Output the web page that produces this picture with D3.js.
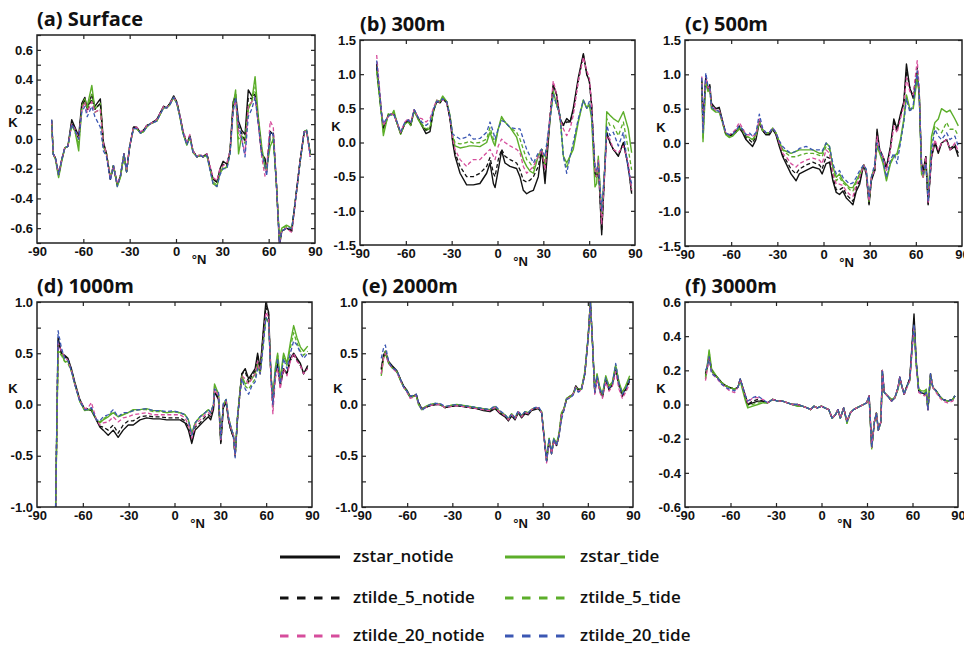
<!DOCTYPE html>
<html><head><meta charset="utf-8">
<script src="https://cdn.jsdelivr.net/npm/d3@7"></script>
<style>
html,body{margin:0;padding:0;background:#fff;}
svg{display:block;}
</style></head>
<body>
<svg id="chart" width="964" height="646"></svg>
<script>
// ---------------- DATA ----------------
const seriesNames = ["zstar_notide","zstar_tide","ztilde_5_notide","ztilde_5_tide","ztilde_20_notide","ztilde_20_tide"];
const panelTitles = ["(a) Surface","(b) 300m","(c) 500m","(d) 1000m","(e) 2000m","(f) 3000m"];
const xTickLabels = [-90,-60,-30,0,30,60,90];
const xInnerTicks = [-60,-30,0,30,60];
const yTicksA = [-0.6,-0.4,-0.2,0.0,0.2,0.4,0.6];
const yMinorA = [-0.7,-0.6,-0.5,-0.4,-0.3,-0.2,-0.1,0.0,0.1,0.2,0.3,0.4,0.5,0.6,0.7];
const yTicksBC = [-1.5,-1.0,-0.5,0.0,0.5,1.0,1.5];
const yTicksDE = [-1.0,-0.5,0.0,0.5,1.0];
const yMinorDE = [-1.0,-0.75,-0.5,-0.25,0.0,0.25,0.5,0.75,1.0];
const yTicksF = [-0.6,-0.4,-0.2,0.0,0.2,0.4,0.6];

// (a) Surface
const latA = [-80.5,-79.5,-78,-76,-74,-72,-70,-67.5,-65.5,-63,-61,-59,-57.5,-54.5,-52.5,-49,-47,-45,-42.5,-40.5,-38,-36,-33.7,-32,-30,-27.5,-25.5,-23,-21,-19,-17,-12.5,-8,-6,-4,-1.5,0.5,2.5,4.5,7,9,11,13.5,15.5,17.5,20,22,24,26.5,28.5,30.5,33,35,37,38.6,40.5,42.5,44.7,46.8,49,51.2,53.3,55.5,57.6,58.7,61,63,65,67,68.5,71.5,75,78,80.3,83,84.6,87];
const surf_zstar_notide = [0.13,-0.1,-0.13,-0.24,-0.14,-0.06,-0.05,0.13,0.08,0.02,0.24,0.28,0.2,0.3,0.22,0.27,-0.02,-0.1,-0.27,-0.18,-0.31,-0.25,-0.1,-0.22,-0.05,0.08,0.08,0.04,0.06,0.09,0.1,0.13,0.22,0.21,0.24,0.29,0.25,0.16,0.05,-0.03,0.02,-0.08,-0.12,-0.11,-0.12,-0.1,-0.19,-0.27,-0.29,-0.2,-0.15,-0.17,-0.08,0.25,0.3,0.12,0.06,0.03,0.33,0.29,0.3,0.12,-0.1,-0.13,-0.22,0.05,0.03,-0.3,-0.72,-0.62,-0.6,-0.62,-0.35,-0.15,0.05,0.05,-0.1];
const surf_zstar_tide = [0.12,-0.1,-0.14,-0.26,-0.15,-0.06,-0.05,0.1,0.06,-0.08,0.22,0.27,0.22,0.36,0.2,0.24,-0.05,-0.1,-0.26,-0.18,-0.32,-0.26,-0.11,-0.22,-0.05,0.07,0.07,0.04,0.05,0.08,0.1,0.12,0.21,0.21,0.23,0.28,0.24,0.15,0.04,-0.04,0.01,-0.09,-0.12,-0.11,-0.12,-0.11,-0.2,-0.3,-0.32,-0.23,-0.2,-0.19,-0.09,0.22,0.33,-0.1,0.02,0.0,0.2,0.25,0.42,0.15,-0.05,-0.2,-0.2,-0.05,0.0,-0.3,-0.68,-0.6,-0.58,-0.6,-0.36,-0.16,0.05,0.06,-0.11];
const surf_ztilde5_notide = [0.12,-0.1,-0.13,-0.24,-0.14,-0.06,-0.05,0.11,0.07,0.0,0.22,0.26,0.2,0.27,0.2,0.24,-0.03,-0.1,-0.27,-0.18,-0.31,-0.25,-0.1,-0.22,-0.05,0.08,0.08,0.04,0.06,0.09,0.1,0.13,0.22,0.21,0.24,0.28,0.25,0.16,0.05,-0.03,0.02,-0.08,-0.12,-0.11,-0.12,-0.1,-0.19,-0.27,-0.29,-0.21,-0.17,-0.18,-0.08,0.22,0.28,0.08,0.04,-0.02,0.28,0.27,0.3,0.12,-0.1,-0.14,-0.2,0.05,0.04,-0.3,-0.7,-0.62,-0.6,-0.61,-0.35,-0.15,0.05,0.05,-0.1];
const surf_ztilde5_tide = [0.12,-0.1,-0.14,-0.25,-0.15,-0.06,-0.05,0.09,0.05,-0.04,0.2,0.25,0.2,0.3,0.18,0.2,-0.05,-0.1,-0.26,-0.18,-0.31,-0.26,-0.11,-0.22,-0.05,0.07,0.07,0.04,0.05,0.08,0.1,0.12,0.21,0.21,0.23,0.28,0.24,0.15,0.04,-0.04,0.01,-0.09,-0.12,-0.11,-0.12,-0.11,-0.2,-0.29,-0.31,-0.22,-0.19,-0.19,-0.09,0.2,0.3,0.0,0.02,-0.03,0.22,0.25,0.35,0.12,-0.07,-0.17,-0.2,0.0,0.01,-0.3,-0.68,-0.6,-0.59,-0.6,-0.36,-0.16,0.05,0.06,-0.11];
const surf_ztilde20_notide = [0.12,-0.1,-0.13,-0.24,-0.14,-0.06,-0.05,0.1,0.07,0.0,0.2,0.25,0.18,0.25,0.18,0.2,-0.03,-0.1,-0.27,-0.18,-0.3,-0.25,-0.1,-0.21,-0.05,0.08,0.08,0.05,0.06,0.09,0.1,0.13,0.22,0.21,0.24,0.28,0.25,0.16,0.06,-0.02,0.03,-0.08,-0.12,-0.1,-0.12,-0.1,-0.18,-0.26,-0.28,-0.2,-0.18,-0.16,-0.08,0.2,0.26,0.05,0.0,-0.1,0.22,0.25,0.28,0.1,-0.12,-0.25,-0.2,0.12,0.08,-0.3,-0.7,-0.62,-0.6,-0.63,-0.36,-0.15,0.05,0.05,-0.14];
const surf_ztilde20_tide = [0.13,-0.1,-0.13,-0.24,-0.14,-0.06,-0.05,0.1,0.06,0.0,0.18,0.22,0.15,0.22,0.15,0.08,-0.08,-0.12,-0.28,-0.18,-0.32,-0.25,-0.1,-0.22,-0.05,0.07,0.07,0.04,0.05,0.08,0.1,0.12,0.21,0.21,0.23,0.28,0.24,0.15,0.04,-0.04,0.01,-0.09,-0.12,-0.11,-0.12,-0.11,-0.21,-0.3,-0.32,-0.24,-0.2,-0.2,-0.1,0.18,0.28,0.1,0.0,-0.12,0.15,0.2,0.28,0.1,-0.1,-0.18,-0.25,0.05,0.03,-0.3,-0.7,-0.62,-0.6,-0.6,-0.36,-0.16,0.05,0.06,-0.12];

// (b) 300m
const latB = [-79.1,-75.8,-74.7,-71.5,-69.3,-67.8,-66.0,-63.4,-60.6,-58.4,-56.8,-54.5,-51.8,-49.6,-46.8,-44.2,-42.0,-39.8,-37.6,-35.9,-33.3,-31.1,-29.3,-27.8,-24.5,-20.2,-18.4,-15.8,-11.5,-7.1,-4.9,-2.7,-1.6,0.5,2.7,4.9,8.2,12.5,14.7,16.9,19.1,21.3,23.5,26.7,28.9,31.1,34.4,36.5,38.7,40.9,43.1,45.3,47.5,49.6,52.9,56.2,58.4,60.1,61.6,63.8,64.9,66.0,68.2,70.4,71.5,73.6,75.8,79.1,82.4,85.6,87.8];
const m300_zstar_notide = [1.15,0.4,0.2,0.4,0.42,0.42,0.3,0.13,0.28,0.33,0.25,0.48,0.35,0.25,0.13,0.16,0.45,0.6,0.58,0.65,0.6,0.35,0.0,-0.2,-0.45,-0.62,-0.62,-0.62,-0.6,-0.45,-0.3,-0.6,-0.66,-0.4,-0.12,-0.3,-0.35,-0.38,-0.5,-0.7,-0.75,-0.72,-0.7,-0.5,-0.1,-0.6,0.35,0.85,0.7,0.35,0.25,0.35,0.3,0.5,0.95,1.3,1.0,0.9,0.55,-0.45,-0.5,-0.3,-1.35,-0.3,0.15,0.0,-0.1,-0.2,0.0,-0.35,-0.75];
const m300_zstar_tide = [1.05,0.38,0.1,0.42,0.4,0.47,0.3,0.12,0.28,0.3,0.25,0.46,0.33,0.25,0.18,0.2,0.45,0.62,0.6,0.68,0.6,0.4,0.08,-0.05,-0.08,-0.06,-0.05,-0.05,-0.06,0.0,0.15,0.0,-0.05,0.2,0.38,0.3,0.22,0.08,-0.1,-0.25,-0.35,-0.42,-0.45,-0.2,-0.1,-0.35,0.35,0.75,0.55,0.4,-0.2,-0.3,-0.2,-0.1,0.3,0.62,0.5,0.55,0.35,-0.65,-0.6,-0.2,-1.1,-0.3,0.45,0.4,0.35,0.3,0.45,0.2,-0.15];
const m300_ztilde5_notide = [1.1,0.4,0.22,0.4,0.4,0.42,0.3,0.14,0.28,0.33,0.26,0.47,0.35,0.27,0.18,0.2,0.47,0.6,0.58,0.64,0.58,0.35,0.02,-0.15,-0.35,-0.5,-0.5,-0.5,-0.45,-0.35,-0.22,-0.45,-0.5,-0.25,-0.1,-0.2,-0.25,-0.3,-0.4,-0.55,-0.58,-0.55,-0.5,-0.35,-0.1,-0.5,0.4,0.85,0.7,0.35,0.25,0.3,0.3,0.45,0.9,1.28,1.0,0.9,0.55,-0.45,-0.5,-0.3,-1.3,-0.3,0.12,0.0,-0.1,-0.2,0.0,-0.35,-0.72];
const m300_ztilde5_tide = [1.05,0.36,0.15,0.4,0.4,0.44,0.3,0.13,0.27,0.3,0.25,0.46,0.34,0.27,0.2,0.22,0.46,0.6,0.6,0.66,0.6,0.38,0.1,0.0,-0.02,0.0,0.02,-0.01,0.0,0.05,0.22,0.05,0.0,0.2,0.35,0.3,0.22,0.15,0.05,-0.1,-0.25,-0.3,-0.38,-0.18,-0.1,-0.28,0.35,0.72,0.55,0.4,-0.2,-0.38,-0.2,-0.05,0.32,0.62,0.5,0.58,0.38,-0.5,-0.5,-0.25,-1.05,-0.3,0.35,0.25,0.25,0.1,0.3,-0.1,-0.4];
const m300_ztilde20_notide = [1.28,0.42,0.25,0.38,0.42,0.4,0.3,0.15,0.3,0.35,0.3,0.48,0.36,0.35,0.3,0.35,0.5,0.62,0.58,0.63,0.58,0.35,0.05,-0.1,-0.25,-0.35,-0.3,-0.25,-0.25,-0.15,-0.1,-0.2,-0.25,-0.05,0.05,0.0,-0.05,-0.1,-0.15,-0.35,-0.45,-0.4,-0.35,-0.2,-0.1,-0.4,0.4,0.9,0.7,0.35,0.2,0.1,0.2,0.4,0.9,1.25,1.05,0.95,0.55,-0.4,-0.5,-0.25,-1.2,-0.35,0.1,0.05,-0.1,-0.15,-0.05,-0.3,-0.7];
const m300_ztilde20_tide = [1.2,0.4,0.28,0.38,0.42,0.4,0.32,0.15,0.3,0.33,0.28,0.48,0.36,0.3,0.25,0.3,0.48,0.6,0.6,0.64,0.6,0.38,0.12,0.1,0.05,0.08,0.12,0.05,0.06,0.15,0.3,0.15,0.05,0.2,0.32,0.3,0.22,0.2,0.2,0.05,-0.1,-0.2,-0.3,-0.15,-0.1,-0.2,0.35,0.7,0.55,0.4,-0.2,-0.45,-0.2,0.0,0.35,0.62,0.5,0.6,0.4,-0.35,-0.4,-0.3,-1.0,-0.3,0.25,0.1,0.15,-0.05,0.15,-0.4,-0.6];

// (c) 500m
const latC = [-79.1,-78.3,-76.5,-75.0,-73.9,-72.8,-70.0,-67.8,-65.7,-63.5,-61.3,-59.1,-57.0,-54.8,-52.6,-50.4,-48.3,-46.1,-43.9,-41.7,-39.6,-37.4,-35.2,-33.0,-30.9,-28.7,-26.5,-24.3,-21.1,-17.8,-15.7,-11.3,-7.0,-2.6,-0.9,1.7,3.9,6.1,8.3,10.4,12.6,14.8,17.0,19.1,21.3,23.5,26.1,27.8,29.6,31.1,33.3,34.8,36.5,38.7,40.9,43.5,45.7,47.8,50.0,52.2,53.9,56.1,58.3,60.9,62.2,63.7,64.8,66.5,68.0,70.2,72.4,74.6,76.7,80.0,82.2,85.4,87.6];
const m500_zstar_notide = [0.9,0.3,0.95,0.78,0.85,0.58,0.5,0.52,0.33,0.13,0.1,0.12,0.15,0.22,0.15,0.05,0.0,-0.05,0.05,0.3,0.18,0.12,0.12,0.2,0.12,-0.05,-0.2,-0.3,-0.45,-0.55,-0.45,-0.4,-0.35,-0.38,-0.45,-0.3,-0.28,-0.55,-0.72,-0.75,-0.7,-0.8,-0.85,-0.9,-0.7,-0.6,-0.32,-0.45,-0.9,-0.55,-0.4,0.2,-0.1,-0.2,-0.35,-0.05,0.35,0.2,0.42,0.6,1.15,0.8,0.65,1.0,0.7,-0.3,-0.4,-0.2,-0.9,-0.2,0.0,-0.15,0.0,0.05,-0.1,-0.05,-0.2];
const m500_zstar_tide = [0.85,0.02,0.88,0.75,0.8,0.5,0.45,0.45,0.3,0.12,0.08,0.1,0.16,0.22,0.2,0.1,0.08,0.05,0.12,0.32,0.2,0.15,0.15,0.2,0.15,0.02,-0.1,-0.12,-0.15,-0.12,-0.1,-0.1,-0.1,-0.15,-0.15,0.0,-0.05,-0.35,-0.5,-0.45,-0.55,-0.6,-0.65,-0.65,-0.55,-0.45,-0.32,-0.4,-0.85,-0.5,-0.35,-0.05,-0.15,-0.3,-0.55,-0.3,-0.2,-0.15,0.05,0.35,0.7,0.5,0.5,0.95,0.75,-0.45,-0.5,-0.3,-0.8,0.1,0.3,0.35,0.5,0.45,0.48,0.35,0.25];
const m500_ztilde5_notide = [0.92,0.25,0.95,0.8,0.82,0.55,0.5,0.5,0.32,0.14,0.12,0.13,0.18,0.25,0.18,0.08,0.05,0.0,0.1,0.32,0.18,0.13,0.14,0.2,0.13,-0.02,-0.18,-0.25,-0.38,-0.45,-0.38,-0.32,-0.28,-0.32,-0.38,-0.2,-0.22,-0.5,-0.68,-0.68,-0.65,-0.75,-0.8,-0.85,-0.65,-0.55,-0.32,-0.45,-0.88,-0.52,-0.4,0.15,-0.1,-0.2,-0.38,-0.08,0.3,0.18,0.4,0.58,1.05,0.8,0.68,1.1,0.72,-0.32,-0.45,-0.2,-0.9,-0.2,0.02,-0.12,0.0,0.05,-0.08,-0.02,-0.15];
const m500_ztilde5_tide = [0.88,0.05,0.9,0.76,0.8,0.52,0.46,0.46,0.3,0.12,0.1,0.1,0.15,0.2,0.18,0.1,0.08,0.05,0.1,0.3,0.18,0.14,0.15,0.22,0.15,0.0,-0.1,-0.15,-0.2,-0.2,-0.18,-0.15,-0.15,-0.18,-0.2,-0.05,-0.1,-0.4,-0.55,-0.5,-0.58,-0.62,-0.68,-0.7,-0.58,-0.48,-0.32,-0.4,-0.85,-0.5,-0.35,-0.02,-0.12,-0.28,-0.52,-0.28,-0.18,-0.2,0.02,0.32,0.68,0.48,0.52,1.0,0.75,-0.42,-0.48,-0.3,-0.82,0.0,0.25,0.2,0.15,0.3,0.2,0.2,0.1];
const m500_ztilde20_notide = [0.97,0.2,0.98,0.8,0.82,0.55,0.48,0.48,0.32,0.15,0.12,0.15,0.2,0.3,0.22,0.12,0.12,0.1,0.12,0.35,0.2,0.15,0.15,0.22,0.15,0.0,-0.15,-0.2,-0.3,-0.35,-0.3,-0.25,-0.22,-0.25,-0.3,-0.1,-0.15,-0.45,-0.6,-0.6,-0.62,-0.7,-0.75,-0.78,-0.62,-0.5,-0.32,-0.42,-0.85,-0.5,-0.4,0.1,-0.1,-0.2,-0.4,-0.1,0.25,0.15,0.35,0.55,0.95,0.75,0.7,1.2,0.8,-0.35,-0.5,-0.2,-0.88,-0.2,0.05,-0.1,0.0,0.05,-0.1,0.0,-0.12];
const m500_ztilde20_tide = [0.95,0.15,1.02,0.82,0.8,0.52,0.48,0.46,0.33,0.15,0.12,0.13,0.18,0.25,0.2,0.12,0.15,0.1,0.15,0.42,0.22,0.15,0.15,0.22,0.15,0.03,-0.05,-0.1,-0.15,-0.12,-0.08,-0.05,-0.1,-0.1,-0.12,0.0,-0.05,-0.3,-0.45,-0.4,-0.5,-0.55,-0.6,-0.58,-0.5,-0.4,-0.32,-0.38,-0.8,-0.5,-0.3,0.0,-0.1,-0.25,-0.5,-0.25,-0.15,-0.3,0.0,0.3,0.65,0.45,0.55,1.05,0.75,-0.4,-0.45,-0.3,-0.85,-0.1,0.2,0.1,0.05,0.15,0.05,0.1,-0.05];

// (d) 1000m
const latD = [-77.8,-76.2,-74.0,-71.9,-69.7,-67.5,-65.3,-62.0,-58.7,-56.5,-54.4,-51.1,-48.9,-46.7,-43.4,-40.1,-36.9,-33.6,-30.3,-27.0,-22.6,-18.3,-13.9,-9.5,-5.1,-0.8,3.6,6.9,9.1,11.3,13.5,16.7,20.0,22.2,23.7,25.5,26.2,28.8,30.3,32.0,33.8,35.3,36.9,38.6,39.7,41.2,43.0,44.1,46.3,48.5,50.6,52.8,54.4,56.1,58.3,59.8,61.6,63.1,64.4,65.9,67.5,69.2,71.4,73.6,75.8,78.0,80.2,82.4,84.5,87.2];
const m1000_zstar_notide = [-1.0,0.65,0.5,0.48,0.45,0.35,0.22,0.05,-0.05,-0.05,-0.06,-0.15,-0.22,-0.25,-0.3,-0.25,-0.32,-0.25,-0.2,-0.2,-0.15,-0.13,-0.14,-0.14,-0.15,-0.15,-0.15,-0.18,-0.25,-0.38,-0.25,-0.2,-0.15,-0.12,-0.15,-0.05,0.12,0.05,-0.38,-0.03,0.02,-0.15,-0.25,-0.32,-0.5,-0.15,0.15,0.3,0.35,0.25,0.3,0.35,0.5,0.35,0.75,1.0,0.9,0.3,0.0,0.3,0.4,0.2,0.35,0.3,0.45,0.5,0.45,0.4,0.3,0.38];
const m1000_zstar_tide = [-1.0,0.52,0.5,0.42,0.42,0.33,0.2,0.03,-0.06,-0.05,-0.05,-0.15,-0.18,-0.15,-0.12,-0.08,-0.12,-0.1,-0.08,-0.05,-0.05,-0.04,-0.06,-0.06,-0.08,-0.07,-0.08,-0.1,-0.15,-0.28,-0.18,-0.12,-0.08,-0.05,-0.08,0.0,0.2,0.1,-0.35,0.0,0.05,-0.12,-0.22,-0.3,-0.5,-0.12,0.15,0.28,0.2,0.22,0.25,0.3,0.4,0.3,0.65,0.85,0.8,0.3,0.05,0.35,0.5,0.25,0.5,0.4,0.6,0.77,0.65,0.56,0.52,0.57];
const m1000_ztilde5_notide = [-1.0,0.62,0.5,0.47,0.44,0.34,0.21,0.04,-0.05,-0.04,-0.04,-0.15,-0.21,-0.22,-0.25,-0.2,-0.28,-0.2,-0.16,-0.16,-0.12,-0.11,-0.12,-0.12,-0.13,-0.13,-0.13,-0.16,-0.22,-0.36,-0.22,-0.18,-0.12,-0.1,-0.12,-0.03,0.13,0.06,-0.38,-0.02,0.02,-0.15,-0.25,-0.32,-0.5,-0.15,0.14,0.3,0.32,0.22,0.28,0.33,0.48,0.33,0.72,0.95,0.88,0.28,-0.02,0.28,0.38,0.18,0.33,0.3,0.43,0.48,0.43,0.38,0.3,0.36];
const m1000_ztilde5_tide = [-1.0,0.5,0.48,0.42,0.4,0.32,0.2,0.03,-0.06,-0.05,-0.04,-0.15,-0.17,-0.14,-0.11,-0.07,-0.12,-0.09,-0.08,-0.06,-0.05,-0.05,-0.07,-0.07,-0.08,-0.07,-0.08,-0.1,-0.15,-0.3,-0.18,-0.12,-0.08,-0.05,-0.08,0.0,0.18,0.1,-0.34,0.0,0.04,-0.12,-0.22,-0.3,-0.5,-0.12,0.13,0.26,0.18,0.15,0.2,0.25,0.38,0.3,0.62,0.85,0.8,0.3,0.02,0.32,0.48,0.22,0.48,0.38,0.55,0.7,0.6,0.52,0.48,0.52];
const m1000_ztilde20_notide = [-1.0,0.6,0.52,0.46,0.43,0.33,0.2,0.04,-0.04,-0.03,0.02,-0.15,-0.2,-0.18,-0.17,-0.12,-0.17,-0.13,-0.12,-0.1,-0.09,-0.08,-0.1,-0.1,-0.1,-0.1,-0.1,-0.13,-0.2,-0.33,-0.2,-0.15,-0.1,-0.08,-0.1,-0.02,0.15,0.08,-0.36,0.0,0.03,-0.13,-0.23,-0.3,-0.5,-0.13,0.12,0.28,0.25,0.2,0.25,0.3,0.42,0.3,0.65,0.9,0.85,0.25,-0.09,0.25,0.35,0.15,0.35,0.28,0.42,0.5,0.42,0.38,0.3,0.35];
const m1000_ztilde20_tide = [-1.0,0.72,0.55,0.45,0.43,0.33,0.2,0.03,-0.05,-0.05,-0.03,-0.15,-0.16,-0.12,-0.1,-0.05,-0.12,-0.08,-0.08,-0.06,-0.05,-0.04,-0.06,-0.06,-0.07,-0.06,-0.08,-0.1,-0.15,-0.3,-0.18,-0.12,-0.08,-0.05,-0.08,0.0,0.15,0.12,-0.33,0.02,0.05,-0.12,-0.22,-0.3,-0.52,-0.12,0.12,0.25,0.15,0.1,0.18,0.22,0.35,0.3,0.6,0.85,0.8,0.3,0.0,0.3,0.45,0.2,0.45,0.35,0.5,0.62,0.58,0.5,0.45,0.5];

// (e) 2000m
const latE = [-77.2,-75.7,-74.5,-72.3,-70.1,-66.8,-64.6,-62.4,-60.2,-58.0,-55.8,-54.0,-52.5,-50.3,-48.0,-44.7,-41.4,-38.1,-34.8,-31.5,-27.1,-22.6,-18.2,-13.8,-9.4,-5.0,-1.7,1.7,5.0,7.2,9.4,11.6,13.8,16.0,18.2,20.4,22.6,24.8,27.1,29.3,30.8,32.6,34.3,35.9,37.4,39.2,40.9,42.5,44.1,45.8,48.0,50.2,52.0,53.6,55.8,58.0,60.2,61.7,63.1,64.6,66.1,67.9,69.7,71.9,74.1,76.3,78.5,80.7,82.9,85.1,87.8];
const m2000_zstar_notide = [0.35,0.48,0.52,0.42,0.38,0.33,0.25,0.18,0.14,0.08,0.08,0.1,0.02,-0.04,-0.03,-0.01,0.0,0.0,-0.03,-0.02,-0.01,-0.02,-0.03,-0.04,-0.06,-0.07,-0.04,-0.09,-0.12,-0.16,-0.11,-0.15,-0.08,-0.13,-0.09,-0.1,-0.06,-0.05,-0.04,-0.08,-0.3,-0.55,-0.35,-0.48,-0.35,-0.4,-0.3,-0.1,-0.05,0.05,0.08,0.1,0.18,0.15,0.15,0.3,0.65,1.0,0.6,0.12,0.28,0.15,0.08,0.25,0.15,0.2,0.35,0.2,0.1,0.15,0.25];
const m2000_zstar_tide = [0.28,0.45,0.5,0.4,0.36,0.32,0.24,0.17,0.13,0.07,0.08,0.09,0.0,-0.05,-0.02,0.0,0.01,0.0,-0.03,-0.01,0.0,-0.01,-0.02,-0.03,-0.04,-0.05,-0.02,-0.07,-0.1,-0.14,-0.09,-0.13,-0.07,-0.11,-0.07,-0.08,-0.05,-0.03,-0.03,-0.07,-0.28,-0.53,-0.33,-0.46,-0.33,-0.38,-0.28,-0.08,-0.04,0.06,0.08,0.1,0.17,0.14,0.16,0.32,0.66,1.0,0.6,0.14,0.3,0.17,0.1,0.28,0.18,0.22,0.38,0.22,0.12,0.18,0.28];
const m2000_ztilde5_notide = [0.34,0.47,0.51,0.41,0.37,0.32,0.25,0.18,0.13,0.07,0.08,0.1,0.02,-0.04,-0.03,-0.01,0.0,0.0,-0.03,-0.02,-0.01,-0.02,-0.03,-0.04,-0.05,-0.06,-0.03,-0.08,-0.11,-0.15,-0.1,-0.14,-0.07,-0.12,-0.08,-0.09,-0.05,-0.04,-0.03,-0.08,-0.3,-0.55,-0.35,-0.48,-0.35,-0.4,-0.3,-0.1,-0.05,0.05,0.07,0.1,0.18,0.14,0.15,0.3,0.65,1.0,0.6,0.11,0.27,0.14,0.07,0.24,0.14,0.19,0.34,0.18,0.08,0.13,0.23];
const m2000_ztilde5_tide = [0.3,0.46,0.52,0.41,0.36,0.32,0.24,0.17,0.13,0.07,0.08,0.09,0.01,-0.05,-0.02,0.0,0.01,0.0,-0.02,-0.01,0.0,-0.01,-0.02,-0.03,-0.04,-0.05,-0.02,-0.07,-0.1,-0.14,-0.09,-0.13,-0.07,-0.11,-0.07,-0.08,-0.05,-0.03,-0.03,-0.07,-0.29,-0.54,-0.33,-0.47,-0.33,-0.39,-0.29,-0.1,-0.05,0.05,0.07,0.1,0.17,0.13,0.15,0.31,0.65,1.0,0.6,0.13,0.29,0.16,0.1,0.27,0.17,0.21,0.39,0.21,0.11,0.17,0.27];
const m2000_ztilde20_notide = [0.3,0.45,0.5,0.4,0.36,0.31,0.24,0.17,0.12,0.06,0.07,0.09,0.01,-0.05,-0.03,-0.01,0.0,0.0,-0.03,-0.02,-0.01,-0.02,-0.03,-0.04,-0.05,-0.06,-0.03,-0.08,-0.11,-0.15,-0.1,-0.14,-0.07,-0.12,-0.08,-0.09,-0.05,-0.04,-0.03,-0.08,-0.3,-0.57,-0.35,-0.48,-0.35,-0.4,-0.3,-0.1,-0.05,0.05,0.07,0.1,0.17,0.13,0.14,0.3,0.65,1.0,0.6,0.1,0.25,0.12,0.06,0.22,0.13,0.18,0.32,0.15,0.06,0.12,0.2];
const m2000_ztilde20_tide = [0.45,0.55,0.58,0.42,0.36,0.33,0.25,0.17,0.13,0.08,0.09,0.1,0.02,-0.06,-0.03,0.0,0.01,0.01,-0.02,-0.01,0.0,-0.01,-0.02,-0.03,-0.04,-0.05,-0.01,-0.06,-0.1,-0.14,-0.09,-0.13,-0.06,-0.11,-0.07,-0.08,-0.05,-0.03,-0.02,-0.07,-0.3,-0.55,-0.33,-0.48,-0.33,-0.4,-0.3,-0.15,-0.06,0.05,0.06,0.09,0.16,0.12,0.14,0.3,0.65,1.0,0.6,0.12,0.28,0.15,0.1,0.26,0.16,0.2,0.4,0.2,0.1,0.15,0.25];

// (f) 3000m
const latF = [-76.5,-75.4,-74.1,-72.5,-71.0,-68.8,-66.0,-63.2,-60.6,-57.3,-55.1,-53.6,-51.9,-50.1,-48.6,-45.3,-42.0,-38.8,-35.5,-32.2,-29.0,-25.7,-22.4,-19.2,-15.9,-12.6,-9.4,-7.2,-5.0,-2.8,0.0,2.2,4.8,7.0,9.2,10.9,12.4,14.6,16.8,19.0,21.1,23.3,25.5,27.7,29.8,31.4,33.1,34.9,36.2,37.5,39.2,40.1,41.4,43.6,46.2,48.4,50.5,51.6,53.2,54.5,56.0,58.2,59.7,61.0,62.5,64.1,65.8,68.0,69.1,70.2,71.9,73.4,75.6,77.8,80.0,83.2,86.5,88.0];
const m3000_zstar_notide = [0.18,0.22,0.29,0.2,0.18,0.16,0.13,0.11,0.1,0.09,0.1,0.15,0.1,0.05,0.0,0.01,0.02,0.02,0.01,0.03,0.02,0.02,0.01,0.0,0.0,-0.01,-0.02,-0.03,-0.01,-0.02,-0.01,-0.02,-0.03,-0.08,-0.06,-0.03,-0.08,-0.02,-0.1,-0.05,-0.03,-0.02,-0.01,0.0,0.01,0.05,-0.25,-0.1,-0.05,-0.15,-0.1,0.2,0.07,0.05,0.02,0.04,0.1,0.16,0.1,0.06,0.1,0.15,0.35,0.53,0.25,0.08,0.07,0.06,0.07,-0.03,0.18,0.1,0.08,0.05,0.03,0.02,0.03,0.05];
const m3000_zstar_tide = [0.15,0.22,0.32,0.21,0.19,0.16,0.13,0.11,0.1,0.09,0.1,0.14,0.08,0.02,-0.02,-0.01,0.0,0.01,0.01,0.03,0.02,0.02,0.01,0.0,-0.01,-0.01,-0.02,-0.03,-0.01,-0.02,-0.01,-0.02,-0.03,-0.08,-0.06,-0.03,-0.08,-0.02,-0.11,-0.05,-0.03,-0.02,-0.01,0.0,0.01,0.04,-0.26,-0.1,-0.05,-0.15,-0.1,0.18,0.07,0.05,0.03,0.04,0.09,0.15,0.1,0.06,0.1,0.14,0.32,0.45,0.23,0.09,0.08,0.08,0.09,-0.02,0.17,0.1,0.08,0.05,0.03,0.02,0.03,0.05];
const m3000_ztilde5_notide = [0.17,0.21,0.28,0.2,0.18,0.16,0.13,0.11,0.1,0.09,0.1,0.15,0.1,0.04,0.0,0.02,0.03,0.02,0.01,0.03,0.02,0.02,0.01,0.0,0.0,-0.01,-0.02,-0.03,-0.01,-0.02,-0.01,-0.02,-0.03,-0.08,-0.06,-0.03,-0.08,-0.02,-0.1,-0.05,-0.03,-0.02,-0.01,0.0,0.01,0.05,-0.25,-0.1,-0.05,-0.15,-0.1,0.2,0.07,0.05,0.02,0.04,0.1,0.16,0.1,0.06,0.1,0.15,0.34,0.5,0.24,0.08,0.07,0.06,0.07,-0.03,0.18,0.1,0.08,0.05,0.03,0.02,0.03,0.05];
const m3000_ztilde5_tide = [0.16,0.22,0.31,0.2,0.18,0.16,0.13,0.11,0.1,0.09,0.1,0.14,0.09,0.03,-0.01,0.0,0.01,0.01,0.01,0.03,0.02,0.02,0.01,0.0,-0.01,-0.01,-0.02,-0.03,-0.01,-0.02,-0.01,-0.02,-0.03,-0.08,-0.06,-0.03,-0.08,-0.02,-0.11,-0.05,-0.03,-0.02,-0.01,0.0,0.01,0.04,-0.26,-0.1,-0.05,-0.15,-0.1,0.19,0.07,0.05,0.03,0.04,0.09,0.15,0.1,0.06,0.1,0.14,0.32,0.46,0.23,0.09,0.08,0.07,0.08,-0.02,0.17,0.1,0.08,0.05,0.03,0.02,0.03,0.05];
const m3000_ztilde20_notide = [0.14,0.2,0.27,0.19,0.17,0.15,0.12,0.1,0.08,0.07,0.1,0.15,0.1,0.05,0.01,0.04,0.04,0.03,0.01,0.03,0.02,0.02,0.01,0.0,0.0,-0.01,-0.02,-0.03,-0.01,-0.02,-0.01,-0.02,-0.03,-0.08,-0.06,-0.03,-0.08,-0.02,-0.1,-0.05,-0.03,-0.02,-0.01,0.0,0.01,0.05,-0.25,-0.1,-0.05,-0.15,-0.1,0.2,0.07,0.05,0.02,0.04,0.1,0.16,0.1,0.06,0.09,0.14,0.32,0.46,0.22,0.07,0.06,0.05,0.06,-0.03,0.17,0.1,0.07,0.04,0.02,0.01,0.02,0.04];
const m3000_ztilde20_tide = [0.2,0.22,0.28,0.18,0.17,0.16,0.12,0.1,0.09,0.08,0.1,0.15,0.1,0.05,0.02,0.04,0.05,0.03,0.01,0.03,0.02,0.02,0.01,0.0,0.0,-0.01,-0.02,-0.03,-0.01,-0.02,-0.01,-0.02,-0.03,-0.08,-0.06,-0.03,-0.08,-0.02,-0.1,-0.05,-0.03,-0.02,-0.01,0.0,0.01,0.05,-0.25,-0.1,-0.05,-0.15,-0.1,0.2,0.07,0.05,0.02,0.04,0.1,0.16,0.1,0.06,0.1,0.15,0.33,0.47,0.24,0.08,0.07,0.06,0.07,-0.03,0.18,0.1,0.08,0.05,0.03,0.02,0.03,0.05];

// ---------------- STYLE / LAYOUT ----------------
const seriesStyle = [
  {color:"#111111", dash:null},
  {color:"#5cae2a", dash:null},
  {color:"#111111", dash:"4,2.5"},
  {color:"#5cae2a", dash:"4,2.5"},
  {color:"#d64d9c", dash:"4,2.5"},
  {color:"#3b57b3", dash:"4,2.5"}
];

const panels = [
  {title:panelTitles[0], x0:37,  x1:315, y0:35,  y1:243, dom:[-0.7,0.7], labels:yTicksA, minor:yMinorA, lat:latA,
   data:[surf_zstar_notide,surf_zstar_tide,surf_ztilde5_notide,surf_ztilde5_tide,surf_ztilde20_notide,surf_ztilde20_tide]},
  {title:panelTitles[1], x0:360, x1:635, y0:40,  y1:245, dom:[-1.5,1.5], labels:yTicksBC, minor:yTicksBC, lat:latB,
   data:[m300_zstar_notide,m300_zstar_tide,m300_ztilde5_notide,m300_ztilde5_tide,m300_ztilde20_notide,m300_ztilde20_tide]},
  {title:panelTitles[2], x0:685, x1:962, y0:40,  y1:246, dom:[-1.5,1.5], labels:yTicksBC, minor:yTicksBC, lat:latC,
   data:[m500_zstar_notide,m500_zstar_tide,m500_ztilde5_notide,m500_ztilde5_tide,m500_ztilde20_notide,m500_ztilde20_tide]},
  {title:panelTitles[3], x0:37,  x1:312, y0:302, y1:507, dom:[-1,1], labels:yTicksDE, minor:yMinorDE, lat:latD,
   data:[m1000_zstar_notide,m1000_zstar_tide,m1000_ztilde5_notide,m1000_ztilde5_tide,m1000_ztilde20_notide,m1000_ztilde20_tide]},
  {title:panelTitles[4], x0:362, x1:633, y0:302, y1:507, dom:[-1,1], labels:yTicksDE, minor:yMinorDE, lat:latE,
   data:[m2000_zstar_notide,m2000_zstar_tide,m2000_ztilde5_notide,m2000_ztilde5_tide,m2000_ztilde20_notide,m2000_ztilde20_tide]},
  {title:panelTitles[5], x0:685, x1:958, y0:302, y1:507, dom:[-0.6,0.6], labels:yTicksF, minor:yTicksF, lat:latF,
   data:[m3000_zstar_notide,m3000_zstar_tide,m3000_ztilde5_notide,m3000_ztilde5_tide,m3000_ztilde20_notide,m3000_ztilde20_tide]}
];

const svg = d3.select("#chart");
const tickFont = "'Liberation Sans', Arial, sans-serif";
const titleFont = "'Open Sans', 'Noto Sans', sans-serif";

panels.forEach((p, pi) => {
  const x = d3.scaleLinear().domain([-90, 90]).range([p.x0, p.x1]);
  const y = d3.scaleLinear().domain(p.dom).range([p.y1, p.y0]);
  const g = svg.append("g");

  const clipId = "clip" + pi;
  svg.append("clipPath").attr("id", clipId).append("rect")
    .attr("x", p.x0).attr("y", p.y0).attr("width", p.x1 - p.x0).attr("height", p.y1 - p.y0);

  // lines
  const line = d3.line().x(d => x(d[0])).y(d => y(d[1]));
  const lg = g.append("g").attr("clip-path", `url(#${clipId})`);
  p.data.forEach((vals, si) => {
    const pts = p.lat.map((la, i) => [la, vals[i]]);
    lg.append("path").datum(pts)
      .attr("d", line)
      .attr("fill", "none")
      .attr("stroke", seriesStyle[si].color)
      .attr("stroke-width", seriesStyle[si].dash ? 1.3 : 1.4)
      .attr("stroke-linejoin", "round")
      .attr("stroke-dasharray", seriesStyle[si].dash);
  });

  const labelSet = new Set(p.labels.map(v => v.toFixed(2)));
  const fmtY = v => labelSet.has(v.toFixed(2)) ? v.toFixed(1) : "";

  // left axis (inner ticks + labels)
  const ax = g.append("g").attr("transform", `translate(${p.x0},0)`)
    .call(d3.axisLeft(y).tickValues(p.minor).tickSize(-4).tickPadding(4).tickFormat(fmtY));
  // right axis ticks
  const axR = g.append("g").attr("transform", `translate(${p.x1},0)`)
    .call(d3.axisRight(y).tickValues(p.minor).tickSize(-4).tickFormat(""));
  // top ticks
  const axT = g.append("g").attr("transform", `translate(0,${p.y0})`)
    .call(d3.axisTop(x).tickValues(xInnerTicks).tickSize(-4).tickFormat(""));
  // bottom labels
  const axB = g.append("g").attr("transform", `translate(0,${p.y1})`)
    .call(d3.axisBottom(x).tickValues(xTickLabels).tickSize(0).tickPadding(4).tickFormat(v => String(v)));
  // bottom inner ticks
  const axB2 = g.append("g").attr("transform", `translate(0,${p.y1})`)
    .call(d3.axisBottom(x).tickValues(xInnerTicks).tickSize(-4).tickFormat(""));

  [ax, axR, axT, axB, axB2].forEach(a => {
    a.select(".domain").remove();
    a.selectAll(".tick line").attr("stroke", "#222").attr("stroke-width", 1.2);
    a.selectAll("text").attr("fill", "#111")
      .style("font-family", tickFont).style("font-weight", "bold").style("font-size", "13px");
  });

  // frame
  g.append("rect").attr("x", p.x0).attr("y", p.y0)
    .attr("width", p.x1 - p.x0).attr("height", p.y1 - p.y0)
    .attr("fill", "none").attr("stroke", "#222").attr("stroke-width", 1.5);

  // title
  g.append("text").attr("x", p.x0).attr("y", p.y0 - 9)
    .text(p.title)
    .style("font-family", titleFont).style("font-weight", "bold").style("font-size", "20px").attr("fill", "#111");

  // y unit label
  g.append("text").attr("x", p.x0 - 24).attr("y", p.y0 + 0.42 * (p.y1 - p.y0) + 5)
    .attr("text-anchor", "middle").text("K")
    .style("font-family", tickFont).style("font-weight", "bold").style("font-size", "13px").attr("fill", "#111");

  // x unit label
  g.append("text").attr("x", x(0) + 23).attr("y", p.y1 + 21)
    .attr("text-anchor", "middle").text("°N")
    .style("font-family", tickFont).style("font-weight", "bold").style("font-size", "13px").attr("fill", "#111");
});

// ---------------- LEGEND ----------------
const legendCols = [[280, 353], [505, 580]];
const legendRows = [557, 598, 636];
const legend = svg.append("g");
seriesNames.forEach((name, i) => {
  const col = i % 2, row = Math.floor(i / 2);
  const [lx, tx] = legendCols[col];
  const ly = legendRows[row];
  legend.append("line").attr("x1", lx).attr("x2", lx + 60).attr("y1", ly).attr("y2", ly)
    .attr("stroke", seriesStyle[i].color).attr("stroke-width", 3.2)
    .attr("stroke-dasharray", seriesStyle[i].dash ? "8.5,8.5" : null);
  legend.append("text").attr("x", tx).attr("y", ly + 5).text(name)
    .style("font-family", titleFont).style("font-weight", "600").style("font-size", "17px").attr("fill", "#111");
});
</script>
</body></html>
